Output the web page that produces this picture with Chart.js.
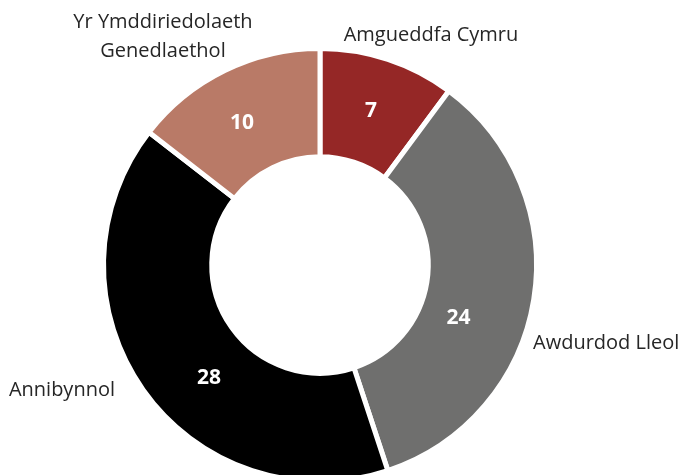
<!DOCTYPE html>
<html>
<head>
<meta charset="utf-8">
<script src="https://cdn.jsdelivr.net/npm/chart.js@4.4.1/dist/chart.umd.min.js"></script>
<style>
  html, body { margin: 0; padding: 0; background: #fff; overflow: hidden; }
  #wrap { width: 681px; height: 530px; position: relative; }
</style>
</head>
<body>
<div id="wrap"><canvas id="c" width="681" height="530"></canvas></div>
<script>
// Data
const categories = ["Amgueddfa Cymru", "Awdurdod Lleol", "Annibynnol", "Yr Ymddiriedolaeth Genedlaethol"];
const values = [7, 24, 28, 10];
const labelLines = [["Amgueddfa Cymru"], ["Awdurdod Lleol"], ["Annibynnol"], ["Yr Ymddiriedolaeth", "Genedlaethol"]];

// Styles
const colors = ["#952726", "#6f6f6e", "#000000", "#b97a67"];
// value label placement: fraction along arc, fraction across ring
const valuePlace = [[0.5, 0.5], [0.595, 0.37], [0.43, 0.46], [0.45, 0.5]];
// category label placement: offset from chart centre (px), alignment
const catPlace = [
  { dx: 111, dy: -230, align: "center" },
  { dx: 213, dy: 78, align: "left" },
  { dx: -205, dy: 125, align: "right" },
  { dx: -157, dy: -228, align: "center" }
];

const labelPlugin = {
  id: "labels",
  afterDatasetsDraw(chart) {
    const ctx = chart.ctx;
    const meta = chart.getDatasetMeta(0);
    ctx.save();
    meta.data.forEach((arc, i) => {
      const p = arc.getProps(["x", "y", "startAngle", "endAngle", "innerRadius", "outerRadius"], true);
      const [fa, fr] = valuePlace[i];
      const a = p.startAngle + fa * (p.endAngle - p.startAngle);
      const r = p.innerRadius + fr * (p.outerRadius - p.innerRadius);
      ctx.fillStyle = "#ffffff";
      ctx.font = "bold 21px 'Open Sans'";
      ctx.textAlign = "center";
      ctx.textBaseline = "middle";
      ctx.fillText(String(values[i]), p.x + Math.cos(a) * r, p.y + Math.sin(a) * r);

      const c = catPlace[i];
      ctx.fillStyle = "#262626";
      ctx.font = "20px 'Open Sans'";
      ctx.textAlign = c.align;
      const lines = labelLines[i];
      const lh = 29;
      lines.forEach((t, k) => {
        const y = p.y + c.dy + (k - (lines.length - 1) / 2) * lh;
        ctx.fillText(t, p.x + c.dx, y);
      });
    });
    ctx.restore();
  }
};

new Chart(document.getElementById("c"), {
  type: "doughnut",
  data: {
    labels: categories,
    datasets: [{
      data: values,
      backgroundColor: colors,
      borderColor: "#ffffff",
      borderWidth: 5,
      hoverOffset: 0
    }]
  },
  options: {
    responsive: false,
    animation: false,
    devicePixelRatio: 1,
    cutout: "50%",
    layout: { padding: { left: 101, top: 46, right: 142, bottom: 46 } },
    plugins: { legend: { display: false }, tooltip: { enabled: false } }
  },
  plugins: [labelPlugin]
});
</script>
</body>
</html>
